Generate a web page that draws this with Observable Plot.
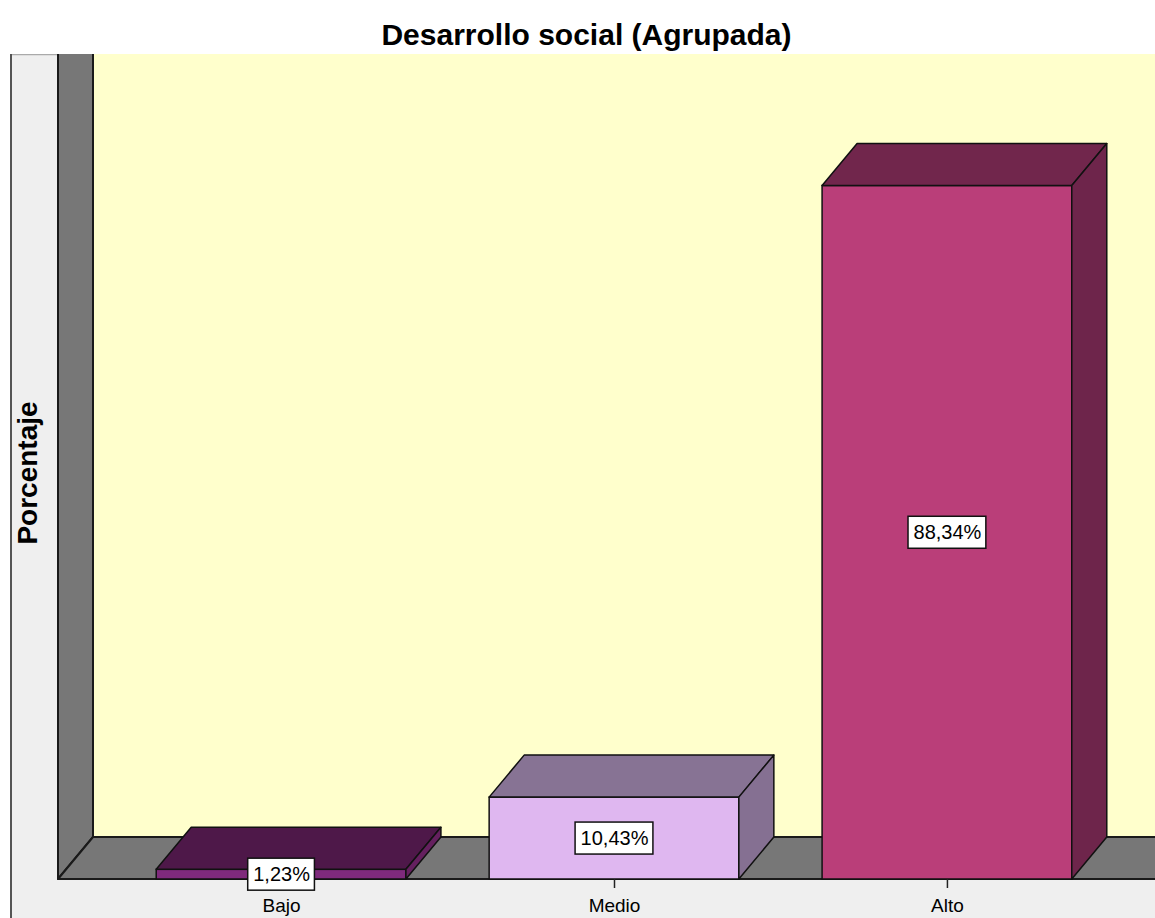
<!DOCTYPE html>
<html><head><meta charset="utf-8">
<script src="https://cdn.jsdelivr.net/npm/d3@7"></script>
<script src="https://cdn.jsdelivr.net/npm/@observablehq/plot@0.6"></script>
<style>
body{margin:0;background:#fff;overflow:hidden;font-family:"Liberation Sans",Arial,sans-serif;}
#title{height:54px;box-sizing:border-box;padding-top:20px;padding-left:18px;text-align:center;font-weight:bold;font-size:30px;line-height:30px;color:#000;white-space:nowrap;}
#chart svg{display:block;}
</style></head><body>
<div id="title">Desarrollo social (Agrupada)</div>
<div id="chart"></div>
<script>
const categories = ["Bajo", "Medio", "Alto"];
const percentages = [1.23, 10.43, 88.34];
const valueLabels = ["1,23%", "10,43%", "88,34%"];
const frontColors = ["#7f2a7c", "#dfb7f0", "#ba3e79"];
const topColors = ["#4e1849", "#877394", "#71264c"];
const sideColors = ["#65205f", "#857092", "#6e254b"];
const yAxisLabel = "Porcentaje";

const data = categories.map((c, i) => ({cat: c, pos: i, value: percentages[i], label: valueLabels[i],
  front: frontColors[i], top: topColors[i], side: sideColors[i]}));

const depthX = 35, depthY = 42, halfBar = 0.375;
const xDomain = [-0.67, 2.67];
const yDomain = [0, 100];
const labelFont = '20px "Liberation Sans", Arial, sans-serif';
const NS = "http://www.w3.org/2000/svg";
function el(tag, attrs) { const e = document.createElementNS(NS, tag); for (const k in attrs) e.setAttribute(k, attrs[k]); return e; }
function poly(pts, fill, stroke, sw) {
  return el("polygon", {points: pts.map(p => p.join(",")).join(" "), fill, stroke: stroke || "none", "stroke-width": sw || 1, "stroke-linejoin": "round"});
}
const measureCtx = document.createElement("canvas").getContext("2d");
function textWidth(s, font) { measureCtx.font = font; return measureCtx.measureText(s).width; }

const background = (index, scales, values, dimensions) => {
  const g = el("g", {});
  const {x, y} = scales;
  const x0 = x(xDomain[0]), x1 = x(xDomain[1]);
  const yb = y(yDomain[0]), yt = y(yDomain[1]);
  g.append(el("rect", {x: 10, y: 0, width: dimensions.width, height: dimensions.height, fill: "#efefef"}));
  g.append(el("line", {x1: 10, x2: dimensions.width, y1: 0.5, y2: 0.5, stroke: "#aaaaaa", "stroke-width": 1.5}));
  g.append(el("line", {x1: 11, x2: 11, y1: 0, y2: dimensions.height, stroke: "#555", "stroke-width": 2}));
  g.append(poly([[x0 + depthX, yt - depthY], [x1 + depthX, yt - depthY], [x1 + depthX, yb - depthY], [x0 + depthX, yb - depthY]], "#ffffcc", "#1a1a1a", 2));
  g.append(poly([[x0, yt - depthY], [x0 + depthX, yt - depthY], [x0 + depthX, yb - depthY], [x0, yb]], "#777777", "#1a1a1a", 2));
  g.append(poly([[x0, yb], [x1, yb], [x1 + depthX, yb - depthY], [x0 + depthX, yb - depthY]], "#777777", "#1a1a1a", 2));
  return g;
};

const barFaces = (index, scales) => {
  const {x, y} = scales;
  const g = el("g", {});
  for (const d of data) {
    const xl = x(d.pos - halfBar), xr = x(d.pos + halfBar), yv = y(d.value), y0 = y(0);
    g.append(poly([[xl, yv], [xr, yv], [xr + depthX, yv - depthY], [xl + depthX, yv - depthY]], d.top, "#111", 1.5));
    g.append(poly([[xr, yv], [xr + depthX, yv - depthY], [xr + depthX, y0 - depthY], [xr, y0]], d.side, "#111", 1.5));
  }
  return g;
};

const labelBoxes = (index, scales) => {
  const {x, y} = scales;
  const g = el("g", {});
  for (const d of data) {
    const w = textWidth(d.label, labelFont) + 10;
    const cx = x(d.pos), cy = y(d.value / 2);
    g.append(el("rect", {x: cx - w / 2, y: cy - 16, width: w, height: 32, fill: "#fff", stroke: "#111", "stroke-width": 1.5}));
  }
  return g;
};

const chart = Plot.plot({
  width: 1155, height: 864,
  marginTop: 40, marginBottom: 39, marginLeft: 58, marginRight: 0,
  style: {fontFamily: '"Liberation Sans", Arial, sans-serif', fontSize: "19px", color: "#000", background: "transparent"},
  x: {type: "linear", domain: xDomain, range: [58, 1170]},
  y: {domain: yDomain, axis: null},
  color: {type: "identity"},
  marks: [
    background,
    Plot.rect(data, {x1: d => d.pos - halfBar, x2: d => d.pos + halfBar, y1: 0, y2: "value", fill: "front", stroke: "#111", strokeWidth: 1.5}),
    barFaces,
    Plot.axisX(data.map(d => d.pos), {tickFormat: i => categories[i], tickSize: 9, tickPadding: 10, fontSize: 19, label: null, stroke: "#222", strokeWidth: 1.5}),
    labelBoxes,
    Plot.text(data, {x: "pos", y: d => d.value / 2, text: "label", fontSize: 20, fill: "#000"}),
    Plot.text([yAxisLabel], {frameAnchor: "left", textAnchor: "middle", dx: -30, dy: -14, rotate: -90, fontWeight: "bold", fontSize: 28, fill: "#000"})
  ]
});
document.getElementById("chart").append(chart);
</script>
</body></html>
